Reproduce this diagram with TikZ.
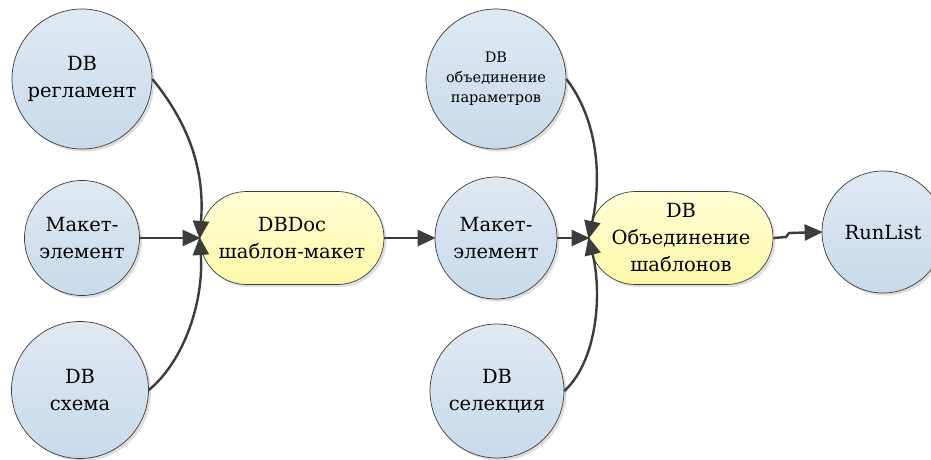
\documentclass[tikz,border=0pt]{standalone}
\usepackage{fontspec}
\setmainfont{DejaVu Serif}
\newfontfamily\labelfont{DejaVu Serif}
\usetikzlibrary{arrows.meta,shapes.misc,shadows}
\definecolor{edgegray}{HTML}{3C3C3C}
\definecolor{blueTop}{HTML}{E0E9F2}
\definecolor{blueBot}{HTML}{C8DAEA}
\definecolor{yelTop}{HTML}{FFFFD6}
\definecolor{yelBot}{HTML}{FCF8A8}
\tikzset{
  base/.style={draw=edgegray, line width=0.7pt, align=center, inner sep=0pt,
    font=\labelfont\fontsize{19.5}{27}\selectfont,
    drop shadow={shadow xshift=2.5pt, shadow yshift=-2.5pt, fill=black, opacity=0.13}},
  db/.style={base, circle, top color=blueTop, bottom color=blueBot},
  proc/.style={base, rounded rectangle, top color=yelTop, bottom color=yelBot,
    minimum width=184pt, minimum height=93pt},
  small/.style={font=\labelfont\fontsize{14.5}{20}\selectfont},
  arr/.style={draw=edgegray, line width=2.4pt,
    -{Triangle[length=18pt,width=16pt]}, shorten >=-1pt},
}
\begin{document}
\begin{tikzpicture}[x=1pt,y=-1pt]
  \useasboundingbox (0,0) rectangle (931,459);
  % sources of the template
  \node[db, minimum size=140pt] (reg) at (82,79) {DB\\регламент};
  \node[db, minimum size=115pt] (mk1) at (82,238) {Макет-\\элемент};
  \node[db, minimum size=137pt] (sch) at (80,390) {DB\\схема};
  \node[proc] (doc) at (292,238) {DBDoc\\шаблон-макет};
  % sources of the merge
  \node[db, small, minimum size=140pt] (par) at (496,79) {DB\\объединение\\параметров};
  \node[db, minimum size=122pt] (mk2) at (496,238) {Макет-\\элемент};
  \node[db, minimum size=134pt] (sel) at (497,391) {DB\\селекция};
  \node[proc] (mrg) at (681,238) {DB\\Объединение\\шаблонов};
  \node[db, minimum size=122pt] (run) at (883,232) {RunList};

  % connectors into the template
  \draw[arr] (reg.east) .. controls (190,125) and (205,172) .. (doc.west);
  \draw[arr] (mk1.east) -- (doc.west);
  \draw[arr] (sch.east) .. controls (185,360) and (204,300) .. (doc.west);
  \draw[arr] (doc.east) -- (mk2.west);
  % connectors into the merge
  \draw[arr] (par.east) .. controls (598,120) and (602,178) .. (mrg.west);
  \draw[arr] (mk2.east) -- (mrg.west);
  \draw[arr] (sel.east) .. controls (598,360) and (602,292) .. (mrg.west);
  \coordinate (jog) at (789,233);
  \draw[arr] (mrg.east) -- (786,237) -- (jog) -- (run.west);
\end{tikzpicture}
\end{document}
